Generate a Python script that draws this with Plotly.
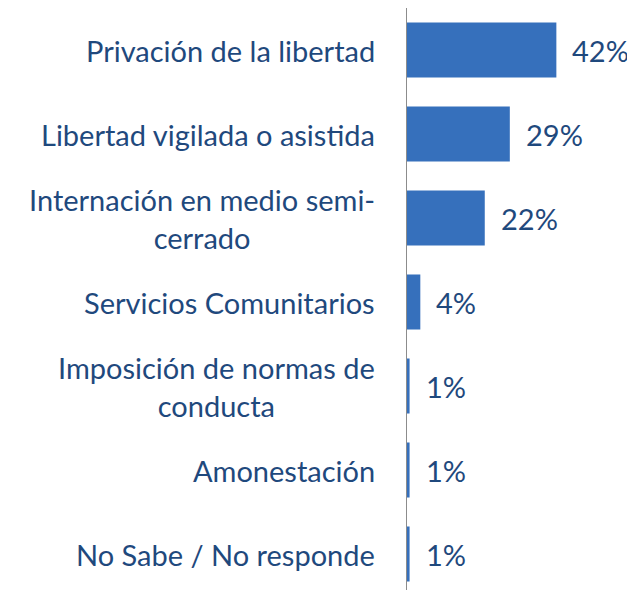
import plotly.graph_objects as go

categories = [
    "Privación de la libertad",
    "Libertad vigilada o asistida",
    "Internación en medio semi-<br>cerrado",
    "Servicios Comunitarios",
    "Imposición de normas de<br>conducta",
    "Amonestación",
    "No Sabe / No responde",
]
values = [42, 29, 22, 4, 1, 1, 1]
value_labels = ["42%", "29%", "22%", "4%", "1%", "1%", "1%"]

# page body has an 8px margin
W, H = 627, 582
ML, MR, MT, MB = 398, 0, 0, 0
ROW = 84.0
plot_h = H - MT - MB
ypos = list(range(len(categories)))
y_bottom = -0.5 + plot_h / ROW

TEXT_COLOR = "#1F497D"
FONT = "Lato"
FS = 29

fig = go.Figure()
fig.add_trace(go.Bar(
    x=values, y=ypos, orientation="h",
    width=0.655,
    marker=dict(color="#3670BC", line=dict(width=0)),
    hoverinfo="skip",
))

annotations = []
for i, (c, v, t) in enumerate(zip(categories, values, value_labels)):
    annotations.append(dict(
        x=0, y=i, xref="x", yref="y", text=c, showarrow=False,
        xanchor="right", yanchor="middle", align="center", xshift=-29,
        font=dict(family=FONT, size=FS, color=TEXT_COLOR),
    ))
    annotations.append(dict(
        x=v, y=i, xref="x", yref="y", text=t, showarrow=False,
        xanchor="left", yanchor="middle", xshift=14,
        font=dict(family=FONT, size=FS, color=TEXT_COLOR),
    ))

fig.update_layout(
    width=W, height=H,
    margin=dict(l=ML, r=MR, t=MT, b=MB, pad=0),
    paper_bgcolor="white", plot_bgcolor="white",
    showlegend=False,
    annotations=annotations,
    xaxis=dict(range=[0, (W - ML - MR) / 3.58], visible=False, fixedrange=True),
    yaxis=dict(range=[y_bottom, -0.5], showticklabels=False, showgrid=False,
               zeroline=False, ticks="", fixedrange=True),
    shapes=[dict(type="line", xref="x", yref="paper", x0=0, x1=0, y0=0, y1=1,
                 line=dict(color="#8C8C8C", width=2))],
)

fig.write_html("out.html", config={"displayModeBar": False})
